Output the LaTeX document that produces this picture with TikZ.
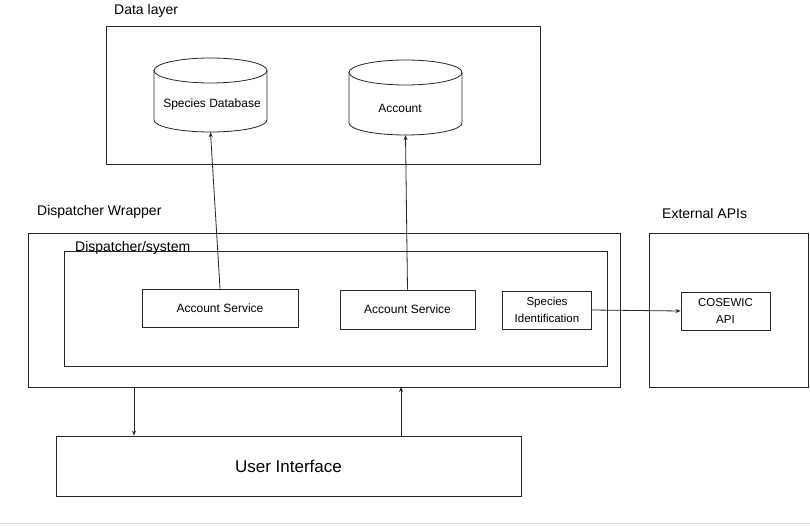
\documentclass[tikz,border=0pt]{standalone}
\usepackage{fontspec}
\setmainfont{Liberation Sans}
\usetikzlibrary{arrows.meta,calc}
\tikzset{
  frame/.style={draw=black!85, line width=0.8pt, fill=none},
  svcbox/.style={draw=black!85, line width=0.8pt, inner sep=0pt, align=center, font=\fontsize{12}{16}\selectfont},
  lbl/.style={inner sep=0pt, anchor=west, font=\fontsize{14}{17}\selectfont},
  conn/.style={draw=black!85, line width=0.8pt, -{Stealth[length=5pt,width=4pt]}},
  dbtext/.style={inner sep=0pt, font=\fontsize{12}{14}\selectfont}
}
\begin{document}
\begin{tikzpicture}[x=1pt,y=-1pt]
\useasboundingbox (0,0) rectangle (810,526);
\fill[white] (0,0) rectangle (810,526);
\draw[black!12, line width=0.8pt] (0,523) -- (810,523);

% Data layer
\node[lbl] (dlabel) at (114,11) {Data layer};
\node[frame, minimum width=434pt, minimum height=138pt, inner sep=0pt] (dl) at (323,95) {};

% cylinders
\node[inner sep=0pt, minimum width=113pt, minimum height=74pt] (db1) at (210.5,95) {};
\draw[black!85, line width=0.8pt] (210.5,70.5) ellipse (56.5pt and 12.5pt);
\draw[black!85, line width=0.8pt] (154,70.5) -- (154,120) arc[start angle=180, end angle=360, x radius=56.5pt, y radius=12pt] -- (267,70.5);
\node[dbtext] (db1t) at (212,104) {Species Database};

\node[inner sep=0pt, minimum width=113pt, minimum height=75pt] (db2) at (405.5,97.5) {};
\draw[black!85, line width=0.8pt] (405.5,72.5) ellipse (56.5pt and 12.5pt);
\draw[black!85, line width=0.8pt] (349,72.5) -- (349,123) arc[start angle=180, end angle=360, x radius=56.5pt, y radius=12pt] -- (462,72.5);
\node[dbtext] (db2t) at (400,108) {Account};

% Dispatcher wrapper
\node[lbl] (wlabel) at (37,212) {Dispatcher Wrapper};
\node[frame, minimum width=592pt, minimum height=154pt, inner sep=0pt] (wrap) at (324,310) {};
\node[frame, minimum width=543pt, minimum height=115pt, inner sep=0pt] (inner) at (335.5,308.5) {};
\node[lbl] (slabel) at (75,247.5) {Dispatcher/system};

\node[svcbox, minimum width=156pt, minimum height=38pt] (as1) at (220,308) {Account Service};
\node[svcbox, minimum width=135pt, minimum height=39pt] (as2) at (407.5,309.5) {Account Service};
\node[svcbox, minimum width=89pt, minimum height=38pt, font=\fontsize{11.5}{16.5}\selectfont] (si) at (547,310) {Species\\Identification};

% External APIs
\node[lbl] (elabel) at (662,213) {External APIs};
\node[frame, minimum width=159pt, minimum height=154pt, inner sep=0pt] (ext) at (728.5,310) {};
\node[svcbox, minimum width=89pt, minimum height=38pt, font=\fontsize{11.5}{16.5}\selectfont] (cos) at (725.5,311) {COSEWIC\\API};

% User interface
\node[frame, minimum width=465pt, minimum height=60pt, inner sep=0pt, font=\fontsize{17}{20}\selectfont] (ui) at (288.5,466) {User Interface};

% connectors
\draw[conn] (as1.north) -- (db1.south);
\draw[conn] (as2.north) -- (db2.south);
\draw[conn] (si.east) -- (cos.west);
\coordinate (w1) at (134,387);
\coordinate (w2) at (401,387);
\draw[conn] (w1) -- (w1 |- ui.north);
\draw[conn] (w2 |- ui.north) -- (w2);
\end{tikzpicture}
\end{document}
